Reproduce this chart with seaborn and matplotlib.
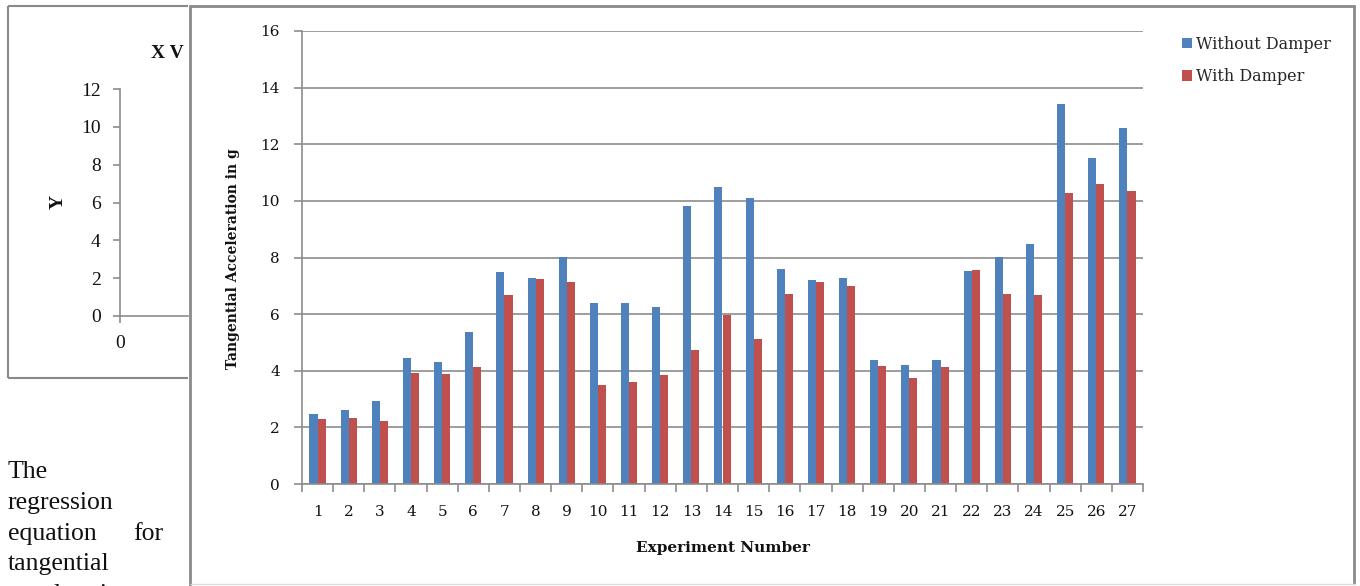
import matplotlib
matplotlib.use("Agg")
import matplotlib.pyplot as plt
from matplotlib.lines import Line2D
from matplotlib.patches import Patch
import numpy as np
import pandas as pd
import seaborn as sns

# ---- data ----
experiments = [str(i) for i in range(1, 28)]
without_damper = [2.47, 2.61, 2.92, 4.46, 4.31, 5.36, 7.48, 7.29, 8.03, 6.38,
                  6.38, 6.24, 9.81, 10.48, 10.10, 7.58, 7.21, 7.29, 4.38, 4.19,
                  4.38, 7.51, 8.03, 8.49, 13.42, 11.50, 12.59]
with_damper = [2.28, 2.32, 2.24, 3.93, 3.90, 4.12, 6.69, 7.24, 7.14, 3.49,
               3.60, 3.86, 4.73, 5.97, 5.11, 6.72, 7.14, 6.98, 4.17, 3.74,
               4.12, 7.55, 6.72, 6.68, 10.29, 10.60, 10.34]
series_names = ["Without Damper", "With Damper"]
y_ticks = list(range(0, 17, 2))

# small chart in the left panel
left_y_ticks = list(range(0, 13, 2))
left_x_ticks = [0]

body_lines = ["The", "regression", "equation", "tangential", "acceleration"]

df = pd.DataFrame({
    "Experiment": experiments * 2,
    "Acceleration": without_damper + with_damper,
    "Series": [series_names[0]] * len(experiments) + [series_names[1]] * len(experiments),
})

W, H = 1360, 586
BLUE = "#4F81BD"
RED = "#C0504D"
GRID = "#8C8C8C"
FRAME = "#8A8A8A"

sns.set_theme(style="white")
plt.rcParams["font.family"] = ["DejaVu Serif", "DejaVu Sans"]

fig = plt.figure(figsize=(W / 100, H / 100), dpi=100)
fig.patch.set_facecolor("white")


def fx(x):
    return x / W


def fy(y):
    return 1 - y / H


def hline(x0, x1, y, lw=1.5, color=FRAME):
    fig.add_artist(Line2D([fx(x0), fx(x1)], [fy(y), fy(y)], transform=fig.transFigure,
                          color=color, lw=lw, solid_capstyle="butt"))


def vline(x, y0, y1, lw=1.5, color=FRAME):
    fig.add_artist(Line2D([fx(x), fx(x)], [fy(y0), fy(y1)], transform=fig.transFigure,
                          color=color, lw=lw, solid_capstyle="butt"))


# ---- left panel: partial scatter frame ----
ax2 = fig.add_axes([fx(120), fy(316), fx(188) - fx(120), fy(89) - fy(316)])
ax2.set_facecolor("none")
ax2.set_xlim(0, 1)
ax2.set_ylim(0, 12)
ax2.set_yticks(left_y_ticks)
ax2.set_xticks(left_x_ticks)
ax2.set_xticklabels([str(v) for v in left_x_ticks])
for s in ["top", "right"]:
    ax2.spines[s].set_visible(False)
for s in ["left", "bottom"]:
    ax2.spines[s].set_color(GRID)
    ax2.spines[s].set_linewidth(1.2)
ax2.tick_params(axis="both", which="major", direction="out", length=5, width=1.2,
                color=GRID, labelsize=14, labelcolor="#111111", pad=9, left=True, bottom=True)
for lab in ax2.get_yticklabels() + ax2.get_xticklabels():
    lab.set_family("Liberation Serif")
fig.text(fx(58), fy(202), "Y", rotation=90, ha="center", va="center",
         family="Liberation Serif", fontweight="bold", fontsize=14, color="#111111")
fig.text(fx(151), fy(54), "X V", ha="left", va="center",
         family="Liberation Serif", fontweight="bold", fontsize=14, color="#111111")

# left panel frame
hline(8, 188, 6)
hline(8, 188, 378)
vline(8, 6, 378)

# body text under the left panel
body_font = dict(family="Liberation Serif", fontsize=18.5, color="#111111", va="baseline")
fig.text(fx(8), fy(478), body_lines[0], ha="left", **body_font)
fig.text(fx(8), fy(509), body_lines[1], ha="left", **body_font)
fig.text(fx(8), fy(540), body_lines[2], ha="left", **body_font)
fig.text(fx(163), fy(540), "for", ha="right", **body_font)
fig.text(fx(8), fy(570), body_lines[3], ha="left", **body_font)
fig.text(fx(8), fy(601), body_lines[4], ha="left", **body_font)

# ---- main bar chart ----
ax = fig.add_axes([fx(302), fy(484), fx(1143) - fx(302), fy(31) - fy(484)])
sns.barplot(data=df, x="Experiment", y="Acceleration", hue="Series",
            order=experiments, hue_order=series_names, palette=[BLUE, RED],
            width=0.52, saturation=1, errorbar=None, legend=False,
            linewidth=0, ax=ax)
ax.set_xlim(-0.5, len(experiments) - 0.5)
ax.set_ylim(0, 16)
ax.set_yticks(y_ticks)
ax.set_yticklabels([str(v) for v in y_ticks])
ax.yaxis.grid(True, color=GRID, lw=1.2)
ax.xaxis.grid(False)
ax.set_axisbelow(True)
for s in ["top", "right"]:
    ax.spines[s].set_visible(False)
for s in ["left", "bottom"]:
    ax.spines[s].set_color(GRID)
    ax.spines[s].set_linewidth(1.2)

ax.set_xticks(np.arange(-0.5, len(experiments), 1.0), minor=True)
ax.tick_params(axis="x", which="major", length=0, pad=15, labelsize=11, labelcolor="#111111")
ax.tick_params(axis="x", which="minor", length=6, width=1.2, color=GRID, direction="out", bottom=True)
ax.tick_params(axis="y", which="major", length=6, width=1.2, color=GRID, direction="out",
               left=True, pad=10, labelsize=11, labelcolor="#111111")

ax.set_xlabel("Experiment Number", fontsize=11, fontweight="bold", color="#111111", labelpad=16)
ax.set_ylabel("")
fig.text(fx(233), fy(259), "Tangential Acceleration in g", rotation=90, ha="center", va="center",
         fontsize=10, fontweight="bold", color="#111111")

handles = [Patch(facecolor=BLUE, edgecolor="none"), Patch(facecolor=RED, edgecolor="none")]
fig.legend(handles, series_names, loc="upper left", bbox_to_anchor=(fx(1182), fy(36)),
           frameon=False, fontsize=11.5, handlelength=0.6, handleheight=0.6,
           handletextpad=0.3, labelspacing=0.95, borderpad=0, borderaxespad=0)

# main chart frame
hline(189, 1355, 6, lw=2)
vline(190, 5, 586, lw=2)
vline(1354, 5, 584, lw=2)
hline(190, 1355, 584, lw=1, color="#DDDDDD")

fig.savefig("out.png", dpi=100, facecolor="white")
